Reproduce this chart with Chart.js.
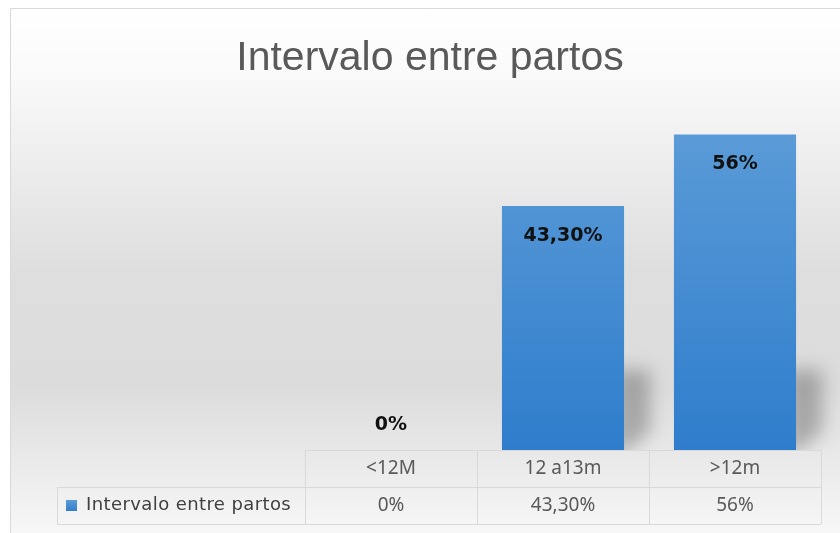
<!DOCTYPE html>
<html>
<head>
<meta charset="utf-8">
<script src="https://cdn.jsdelivr.net/npm/chart.js@4/dist/chart.umd.min.js"></script>
<style>
  html, body { margin: 0; padding: 0; background: #ffffff; }
  #wrap { width: 840px; height: 533px; }
</style>
</head>
<body>
<div id="wrap"><canvas id="chart" width="840" height="533"></canvas></div>
<script>
const title = "Intervalo entre partos"
const seriesName = "Intervalo entre partos"
const categories = ["<12M", "12 a13m", ">12m"]
const values = [0, 43.3, 56]
const valueLabels = ["0%", "43,30%", "56%"]

const gridColor = "#d9d9d9"
const textColor = "#595959"

// frame + gray gradient behind everything, title on top of it
const backgroundPlugin = {
  id: "background",
  beforeDraw(chart) {
    const ctx = chart.ctx
    const w = chart.width
    const h = chart.height
    ctx.save()
    ctx.fillStyle = "#ffffff"
    ctx.fillRect(0, 0, w, h)
    const g = ctx.createLinearGradient(0, 8, 0, h)
    g.addColorStop(0, "#ffffff")
    g.addColorStop(0.12, "#fafafa")
    g.addColorStop(0.5, "#dedede")
    g.addColorStop(0.72, "#dcdcdc")
    g.addColorStop(1, "#f7f7f7")
    ctx.fillStyle = g
    ctx.fillRect(10, 8, w - 10, h - 8)
    ctx.strokeStyle = gridColor
    ctx.lineWidth = 1
    ctx.beginPath()
    ctx.moveTo(10.5, h)
    ctx.lineTo(10.5, 8.5)
    ctx.lineTo(w, 8.5)
    ctx.stroke()

    // title is centred on the whole frame, not the plot
    ctx.fillStyle = textColor
    ctx.font = "41px 'Liberation Sans'"
    ctx.textAlign = "center"
    ctx.textBaseline = "alphabetic"
    ctx.fillText(title, 430, 70)
    ctx.restore()
  }
}

// soft shadow at the lower right of every bar
const shadowPlugin = {
  id: "barShadow",
  beforeDatasetsDraw(chart) {
    const ctx = chart.ctx
    const base = chart.chartArea.bottom
    ctx.save()
    ctx.beginPath()
    ctx.rect(0, 0, chart.width, base)
    ctx.clip()
    ctx.filter = "blur(9px)"
    chart.getDatasetMeta(0).data.forEach(bar => {
      const height = base - bar.y
      if (height < 10) return
      const right = bar.x + bar.width / 2
      const top = base - Math.min(height, 80)
      ctx.fillStyle = "rgba(0, 0, 0, 0.26)"
      ctx.beginPath()
      ctx.moveTo(right - 10, top)
      ctx.lineTo(right + 26, top)
      ctx.lineTo(right + 26, base - 18)
      ctx.lineTo(right - 10, base + 10)
      ctx.closePath()
      ctx.fill()
    })
    ctx.restore()
  }
}

// percentages drawn at the top of each bar
const labelPlugin = {
  id: "valueLabels",
  afterDatasetsDraw(chart) {
    const ctx = chart.ctx
    const base = chart.chartArea.bottom
    ctx.save()
    ctx.font = "bold 19px 'DejaVu Sans'"
    ctx.fillStyle = "#111111"
    ctx.textAlign = "center"
    ctx.textBaseline = "middle"
    chart.getDatasetMeta(0).data.forEach((bar, i) => {
      const inside = base - bar.y > 60
      const y = inside ? bar.y + 30 : bar.y - 25
      ctx.fillText(valueLabels[i], bar.x, y)
    })
    ctx.restore()
  }
}

// data table under the plot: category row + series row
const tablePlugin = {
  id: "dataTable",
  afterDraw(chart) {
    const ctx = chart.ctx
    const area = chart.chartArea
    const x = chart.scales.x
    const colWidth = (area.right - area.left) / categories.length
    const rowH = 37
    const top = area.bottom
    const mid = top + rowH
    const bottom = mid + rowH
    const legendLeft = 57

    ctx.save()
    ctx.strokeStyle = gridColor
    ctx.lineWidth = 1
    ctx.beginPath()
    ctx.moveTo(area.left, top + 0.5)
    ctx.lineTo(area.right, top + 0.5)
    ctx.moveTo(legendLeft, mid + 0.5)
    ctx.lineTo(area.right, mid + 0.5)
    ctx.moveTo(legendLeft, bottom + 0.5)
    ctx.lineTo(area.right, bottom + 0.5)
    ctx.moveTo(legendLeft + 0.5, mid)
    ctx.lineTo(legendLeft + 0.5, bottom)
    for (let i = 0; i <= categories.length; i++) {
      const px = Math.round(area.left + i * colWidth) + 0.5
      ctx.moveTo(px, top)
      ctx.lineTo(px, bottom)
    }
    ctx.stroke()

    ctx.textAlign = "center"
    ctx.textBaseline = "middle"
    ctx.fillStyle = textColor
    ctx.font = "19px 'Noto Sans'"
    categories.forEach((c, i) => {
      const cx = x.getPixelForValue(i)
      ctx.fillText(c, cx, top + rowH / 2)
      ctx.fillText(valueLabels[i], cx, mid + rowH / 2)
    })

    // legend key
    const key = ctx.createLinearGradient(0, mid + 13, 0, mid + 25)
    key.addColorStop(0, "#5b9bd5")
    key.addColorStop(1, "#2e7bcb")
    ctx.fillStyle = key
    ctx.fillRect(66, mid + 13, 11, 11)
    ctx.textAlign = "left"
    ctx.fillStyle = "#404040"
    ctx.font = "18px 'DejaVu Sans'"
    ctx.letterSpacing = "0.4px"
    ctx.fillText(seriesName, 86, mid + rowH / 2)
    ctx.restore()
  }
}

new Chart(document.getElementById("chart"), {
  type: "bar",
  data: {
    labels: categories,
    datasets: [{
      label: seriesName,
      data: values,
      borderWidth: 0,
      categoryPercentage: 1,
      barPercentage: 0.71,
      backgroundColor(context) {
        const area = context.chart.chartArea
        if (!area) return "#4a8fd4"
        const g = context.chart.ctx.createLinearGradient(0, area.top, 0, area.bottom)
        g.addColorStop(0, "#5d9dd8")
        g.addColorStop(1, "#2f7dcc")
        return g
      }
    }]
  },
  options: {
    responsive: false,
    animation: false,
    layout: {
      padding: { left: 305, right: 19, top: 112, bottom: 83 }
    },
    plugins: {
      legend: { display: false },
      tooltip: { enabled: false },
      title: { display: false }
    },
    scales: {
      x: { display: false },
      y: { display: false, min: 0, max: 60 }
    }
  },
  plugins: [backgroundPlugin, shadowPlugin, labelPlugin, tablePlugin]
})
</script>
</body>
</html>
